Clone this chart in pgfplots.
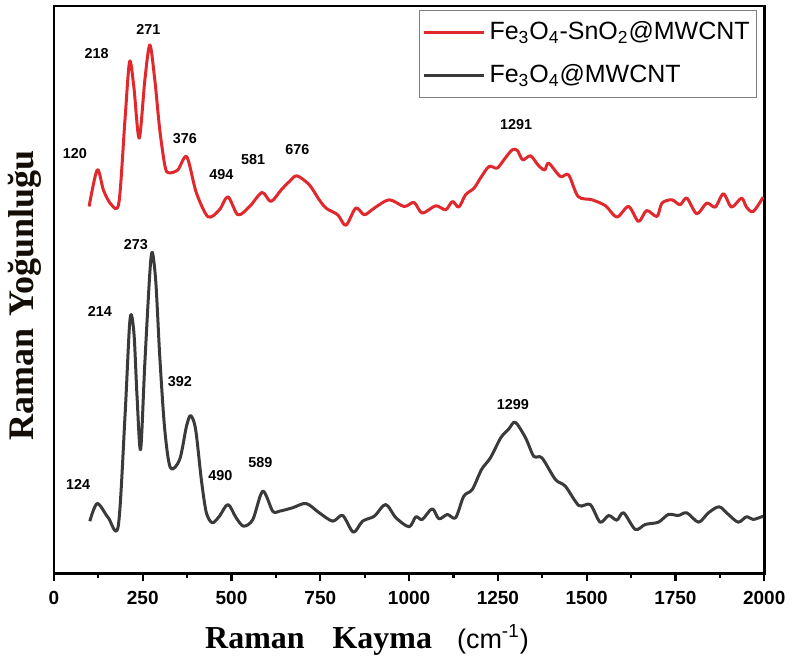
\documentclass[border=0pt]{standalone}
\usepackage{fontspec}
\usepackage{pgfplots}
\pgfplotsset{compat=1.18}
\setmainfont{Liberation Sans}
\newfontfamily\lsans{Liberation Sans}
\newfontfamily\lserif{Liberation Serif}
\definecolor{redline}{HTML}{E0282D}
\definecolor{darkline}{HTML}{3A3A3A}

\begin{document}
\begin{tikzpicture}
\begin{axis}[
  name=ax,
  scale only axis,
  width=355.5pt, height=284pt,
  xmin=0, xmax=2000, ymin=0, ymax=568,
  xtick={0,250,...,2000},
  minor x tick num=1,
  xtick pos=bottom,
  tick align=outside,
  major tick length=4pt, minor tick length=2.2pt,
  ytick=\empty,
  axis line style={line width=1.3pt},
  every tick/.style={black, line width=1.1pt},
  /pgf/number format/assume math mode=true,
  /pgf/number format/set thousands separator={},
  tick label style={font=\lsans\bfseries\fontsize{9.5}{11}\selectfont},
  xticklabel style={yshift=-1.5pt},
  legend style={at={(1,1)}, anchor=north east, xshift=-3.5pt, yshift=-2pt,
    draw=gray, line width=0.6pt, font=\lsans\fontsize{12.5}{14}\selectfont,
    inner xsep=1.5pt, inner ysep=3.6pt, row sep=7pt},
  legend cell align=left,
  legend image code/.code={\draw[#1] (0pt,0pt) -- (30pt,0pt);},
]
\addplot[redline, line width=1.5pt, line join=round, smooth, tension=0.5] coordinates {
 (99,367.3)(122,404)(140,383)(162,369)(183,371.3)(200,454)(213,512.3)(225,487)
 (240,435.7)(256,494)(270,529)(284,494)(298,444)(313,407)(324,401)(349,404)
 (374,417)(401,381)(434,357)(466,364)(490,377)(518,359)(551,367.3)(586,381.3)
 (611,372.3)(640,384)(663,392.3)(684,398)(719,389)(745,375)(766,365.7)(799,359)
 (822,348.5)(850,365.7)(874,359)(902,365.7)(944,374)(986,367.3)(1014,371.3)
 (1037,360.7)(1075,368)(1103,364)(1122,372.3)(1140,366.7)(1159,379)(1183,385.7)
 (1201,395.7)(1225,407.3)(1248,405.7)(1267,414)(1290,424)(1305,423.3)(1320,414)
 (1342,418)(1365,408)(1382,404)(1393,410.7)(1426,397.3)(1449,399)(1476,377.3)
 (1515,374)(1553,368)(1585,356.7)(1618,367.3)(1646,352.3)(1669,363.3)(1698,357.3)
 (1712,370.7)(1740,374)(1763,369)(1782,375.7)(1810,360)(1838,370.7)(1862,366.7)
 (1885,380)(1908,366.7)(1936,375.7)(1950,366.7)(1969,362.3)(1997,376.7)
};
\addlegendentry{Fe\textsubscript{3}O\textsubscript{4}-SnO\textsubscript{2}@MWCNT}
\addplot[darkline, line width=1.5pt, line join=round, smooth, tension=0.5] coordinates {
 (101,52.3)(122,70)(153,55.7)(181,47.3)(200,157)(212,244)(218,259)(226,237)
 (234,177)(244,124)(256,211)(270,301)(277,321.3)(287,291)(298,217)(312,144)
 (328,105.7)(354,114)(373,147)(385,158)(399,144)(415,94)(429,61)(446,50.7)
 (466,57.3)(490,69)(513,55.7)(534,47.3)(560,54)(588,82.3)(616,62.3)(635,62.3)
 (672,65.7)(710,70)(747,60.7)(785,52.3)(813,58)(843,41.3)(869,52.3)(902,57.3)
 (934,69)(963,55.7)(1000,46.7)(1019,56.7)(1037,54)(1065,64.7)(1084,54.7)
 (1108,59)(1131,55.7)(1154,77.3)(1178,84)(1204,104)(1229,115.7)(1258,135.7)
 (1281,144.7)(1299,151.3)(1328,135.7)(1351,117.3)(1374,115.7)(1412,94)
 (1440,87.3)(1478,68)(1510,69)(1538,51.3)(1562,58)(1585,53.3)(1604,60.7)
 (1637,44)(1665,49)(1702,51.3)(1730,59)(1758,58)(1782,60.7)(1815,51.3)
 (1843,60.7)(1873,66.7)(1899,59)(1927,51.3)(1950,56.7)(1969,54)(1997,57.3)
};
\addlegendentry{Fe\textsubscript{3}O\textsubscript{4}@MWCNT}
% peak labels
\begin{scope}[every node/.style={font=\lsans\bfseries\fontsize{7.2}{8}\selectfont, inner sep=0pt}]
\node at (axis cs:59,420) {120};
\node at (axis cs:120,520.7) {218};
\node at (axis cs:266,544.7) {271};
\node at (axis cs:368.5,435.7) {376};
\node at (axis cs:471.7,399) {494};
\node at (axis cs:560.6,414) {581};
\node at (axis cs:685.5,424) {676};
\node at (axis cs:1301.5,449) {1291};
\node at (axis cs:68.4,89) {124};
\node at (axis cs:129.4,262.3) {214};
\node at (axis cs:230.7,329) {273};
\node at (axis cs:354.4,192.3) {392};
\node at (axis cs:468.9,98) {490};
\node at (axis cs:581.4,110.7) {589};
\node at (axis cs:1292,169) {1299};
\end{scope}
\end{axis}
% axis titles
\node[rotate=90, font=\lserif\bfseries\fontsize{18}{20}\selectfont, text=black!90!brown]
  at ([xshift=-14.5pt,yshift=-2.75pt]ax.west) {Raman\hspace{6pt}Yoğunluğu};
\node[anchor=base west, inner sep=0pt]
  at ([xshift=75.5pt,yshift=-37.5pt]ax.south west)
  {{\lserif\bfseries\fontsize{16}{18}\selectfont Raman\hspace{14pt}Kayma}\hspace{12.5pt}{\lsans\fontsize{13.5}{16}\selectfont (cm\textsuperscript{-1})}};
% page frame
\path ([shift={(-27pt,-42pt)}]ax.south west) rectangle ([shift={(13.5pt,3pt)}]ax.north east);
\end{tikzpicture}
\end{document}
